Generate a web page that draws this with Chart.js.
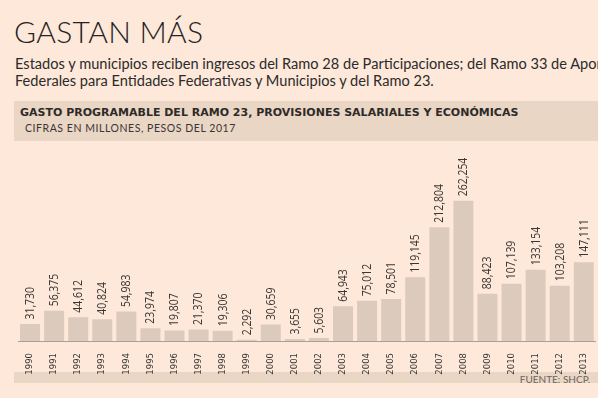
<!DOCTYPE html>
<html>
<head>
<meta charset="utf-8">
<script src="https://cdn.jsdelivr.net/npm/chart.js@4/dist/chart.umd.min.js"></script>
<style>
  html, body { margin:0; padding:0; }
  body { width:598px; height:398px; background:#fde8d9; position:relative; overflow:hidden; font-family:"Lato","Open Sans",sans-serif; color:#2b2b2b; }
  .abs { position:absolute; white-space:nowrap; }
  #title { left:14px; top:13px; font-size:30px; font-weight:300; line-height:36px; color:#222; letter-spacing:0.3px; }
  #sub1 { left:15px; top:55px; font-size:14.6px; line-height:17px; color:#2b2b2b; width:583px; overflow:hidden; }
  #sub2 { left:15px; top:72px; font-size:14.6px; line-height:17px; color:#2b2b2b; }
  #band { left:14px; top:101px; width:584px; height:40px; background:#ead6c5; }
  #bandTitle { left:20px; top:106px; font-family:"DejaVu Sans",sans-serif; font-weight:bold; font-size:11px; line-height:14px; color:#2e2a28; }
  #bandSub { left:25px; top:121px; font-size:10.5px; line-height:14px; color:#3a3532; letter-spacing:0.55px; }
  #foot { left:14px; top:372px; width:584px; height:11px; background:#ead6c5; }
  #source { right:8px; top:373px; font-size:10px; line-height:12px; color:#6b635d; }
  canvas { position:absolute; left:0; top:0; }
</style>
</head>
<body>
<div id="band" class="abs"></div>
<div id="foot" class="abs"></div>
<div id="title" class="abs">GASTAN MÁS</div>
<div id="sub1" class="abs">Estados y municipios reciben ingresos del Ramo 28 de Participaciones; del Ramo 33 de Aportaciones</div>
<div id="sub2" class="abs">Federales para Entidades Federativas y Municipios y del Ramo 23.</div>
<div id="bandTitle" class="abs">GASTO PROGRAMABLE DEL RAMO 23, PROVISIONES SALARIALES Y ECONÓMICAS</div>
<div id="bandSub" class="abs">CIFRAS EN MILLONES, PESOS DEL 2017</div>
<div id="source" class="abs">FUENTE: SHCP.</div>
<canvas id="c" width="598" height="398"></canvas>
<script>
const years = ["1990","1991","1992","1993","1994","1995","1996","1997","1998","1999","2000","2001","2002","2003","2004","2005","2006","2007","2008","2009","2010","2011","2012","2013"];
const gasto = [31730,56375,44612,40824,54983,23974,19807,21370,19306,2292,30659,3655,5603,64943,75012,78501,119145,212804,262254,88423,107139,133154,103208,147111];

const valueLabels = {
  id: 'valueLabels',
  afterDatasetsDraw(chart) {
    const ctx = chart.ctx;
    const meta = chart.getDatasetMeta(0);
    ctx.save();
    ctx.font = '12px "Open Sans", sans-serif';
    ctx.fillStyle = '#3a3634';
    ctx.textAlign = 'left';
    ctx.textBaseline = 'middle';
    meta.data.forEach((bar, i) => {
      const txt = gasto[i].toLocaleString('en-US');
      ctx.save();
      ctx.translate(bar.x, bar.y - 4.5);
      ctx.rotate(-Math.PI / 2);
      ctx.scale(0.87, 1);
      ctx.fillText(txt, 0, 0.5);
      ctx.restore();
    });
    ctx.restore();
  }
};

new Chart(document.getElementById('c'), {
  type: 'bar',
  data: {
    labels: years,
    datasets: [{
      data: gasto,
      backgroundColor: '#dccbbc',
      borderWidth: 0,
      barPercentage: 0.83,
      categoryPercentage: 1
    }]
  },
  options: {
    responsive: false,
    devicePixelRatio: 1,
    animation: false,
    layout: { padding: { left: 18, right: 1, top: 153.75, bottom: 12 } },
    plugins: { legend: { display: false }, tooltip: { enabled: false }, title: { display: false } },
    scales: {
      x: {
        grid: { display: false },
        border: { display: true, color: '#a8a098', width: 1 },
        ticks: {
          autoSkip: false, maxRotation: 90, minRotation: 90, padding: 4,
          color: '#333', font: { family: '"DejaVu Sans", sans-serif', size: 8.5 }
        },
        afterFit(scale) { scale.height = 45; }
      },
      y: { display: false, min: 0, max: 350000 }
    }
  },
  plugins: [valueLabels]
});
</script>
</body>
</html>
